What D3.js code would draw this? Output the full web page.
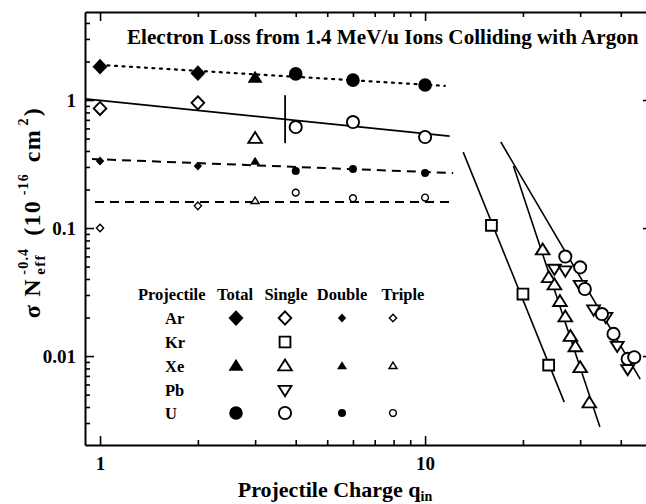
<!DOCTYPE html>
<html><head><meta charset="utf-8">
<script src="https://cdn.jsdelivr.net/npm/d3@7"></script>
<style>
body{margin:0;background:#fff}
svg{display:block}
text{font-family:"Liberation Serif","Times New Roman",serif;font-weight:bold;fill:#000}
</style>
</head><body><svg id="c" width="646" height="504"></svg>
<script>
// ---------- data ----------
const xMajorTicks = [1, 10];
const xMinorTicks = [2,3,4,5,6,7,8,9,20,30,40];
const yMajorTicks = [0.01, 0.1, 1];
const yTickLabels = ["0.01", "0.1", "1"];
const yMinorTicks = [0.003,0.004,0.005,0.006,0.007,0.008,0.009,0.02,0.03,0.04,0.05,0.06,0.07,0.08,0.09,0.2,0.3,0.4,0.5,0.6,0.7,0.8,0.9,2,3,4];

const arTotalQ = [1, 2],         arTotalV = [1.82, 1.62];
const xeTotalQ = [3],            xeTotalV = [1.49];
const uTotalQ  = [4, 6, 10],     uTotalV  = [1.60, 1.43, 1.31];

const arSingleQ = [1, 2],        arSingleV = [0.86, 0.95];
const krSingleQ = [16, 20, 24],  krSingleV = [0.105, 0.0305, 0.0085];
const xeSingleQ = [3, 23, 24, 25, 26, 27, 28, 29, 30, 32];
const xeSingleV = [0.50, 0.0673, 0.0409, 0.0359, 0.0266, 0.0202, 0.0142, 0.0118, 0.0081, 0.0043];
const pbSingleQ = [25, 27, 30, 33, 36, 39, 42];
const pbSingleV = [0.048, 0.0466, 0.0359, 0.0231, 0.0202, 0.0120, 0.0079];
const uSingleQ  = [4, 6, 10, 27, 30, 31, 35, 38, 42, 44];
const uSingleV  = [0.615, 0.673, 0.514, 0.0599, 0.0493, 0.0334, 0.0213, 0.0149, 0.0095, 0.0098];

const arDoubleQ = [1, 2],        arDoubleV = [0.334, 0.305];
const xeDoubleQ = [3],           xeDoubleV = [0.33];
const uDoubleQ  = [4, 6, 10],    uDoubleV  = [0.279, 0.289, 0.269];

const arTripleQ = [1, 2],        arTripleV = [0.100, 0.149];
const xeTripleQ = [3],           xeTripleV = [0.163];
const uTripleQ  = [4, 6, 10],    uTripleV  = [0.189, 0.171, 0.173];

// fitted lines (end points)
const fitTotalQ  = [1, 11.5],     fitTotalV  = [1.88, 1.29];
const fitSingleQ = [0.9, 11.9],   fitSingleV = [1.02, 0.523];
const fitDoubleQ = [0.945, 12.2], fitDoubleV = [0.346, 0.269];
const fitTripleQ = [0.965, 12.2], fitTripleV = [0.16, 0.16];
const fitKrQ     = [13.1, 26.8],  fitKrV     = [0.392, 0.00437];
const fitPbUQ    = [17.1, 45.9],  fitPbUV    = [0.47, 0.0066];
const fitXeQ     = [18.7, 34.5],  fitXeV     = [0.305, 0.00279];
const markQ      = [3.71, 3.71],  markV      = [1.09, 0.46];

const titleText = "Electron Loss from 1.4 MeV/u Ions Colliding with Argon";
const legendRows = ["Ar", "Kr", "Xe", "Pb", "U"];
const legendCols = ["Total", "Single", "Double", "Triple"];

// ---------- setup ----------
const svg = d3.select("#c");
const L = 85, R = 652, T = 12, B = 445;
const x = d3.scaleLog().domain([0.899, 49.9]).range([L, R]);
const y = d3.scaleLog().domain([0.00202, 4.87]).range([B, T]);

// custom symbol types (size = half width)
const sym = {
  diamond: {draw(c, r){ const h=r*1.05; c.moveTo(0,-h); c.lineTo(r,0); c.lineTo(0,h); c.lineTo(-r,0); c.closePath(); }},
  square:  {draw(c, r){ c.rect(-r,-r,2*r,2*r); }},
  triUp:   {draw(c, r){ const h=r*1.6; c.moveTo(0,-h*0.6); c.lineTo(r,h*0.4); c.lineTo(-r,h*0.4); c.closePath(); }},
  triDown: {draw(c, r){ const h=r*1.6; c.moveTo(0,h*0.6); c.lineTo(r,-h*0.4); c.lineTo(-r,-h*0.4); c.closePath(); }},
  circle:  {draw(c, r){ c.moveTo(r,0); c.arc(0,0,r,0,2*Math.PI); }}
};
const species = {Ar:"diamond", Kr:"square", Xe:"triUp", Pb:"triDown", U:"circle"};
const styleOf = {
  Total:  {fill:"#000", stroke:"none", sw:0, r:{diamond:7.5, triUp:7.5, circle:6.8}},
  Single: {fill:"#fff", stroke:"#000", sw:1.9, r:{diamond:6.3, square:5.4, triUp:6.8, triDown:6.4, circle:6.1}},
  Double: {fill:"#000", stroke:"none", sw:0, r:{diamond:4.2, triUp:5, circle:4}},
  Triple: {fill:"#fff", stroke:"#000", sw:1.4, r:{diamond:3.6, triUp:4, circle:3.4}}
};
function marker(sel, sp, col){
  const t = species[sp], st = styleOf[col];
  sel.attr("d", d3.symbol().type(sym[t]).size(st.r[t]))
     .attr("fill", st.fill).attr("stroke", st.stroke).attr("stroke-width", st.sw);
}

// ---------- axes ----------
function styleAxis(g, showDomain){
  g.selectAll(".tick line").attr("stroke","#000").attr("stroke-width",1.6);
  g.select(".domain").attr("stroke", showDomain ? "#000" : "none").attr("stroke-width",2);
  g.selectAll("text").attr("font-size",19).attr("fill","#000")
   .attr("font-family",'"Liberation Serif","Times New Roman",serif').attr("font-weight","bold");
}
const fmtY = d => yTickLabels[yMajorTicks.indexOf(d)];
svg.append("g").attr("transform",`translate(0,${B})`)
  .call(d3.axisBottom(x).tickValues(xMajorTicks).tickSizeInner(-9).tickSizeOuter(0).tickPadding(11.5).tickFormat(d3.format("d")))
  .call(g=>styleAxis(g,true));
svg.append("g").attr("transform",`translate(0,${B})`)
  .call(d3.axisBottom(x).tickValues(xMinorTicks).tickSizeInner(-5).tickSizeOuter(0).tickFormat(""))
  .call(g=>styleAxis(g,false));
svg.append("g").attr("transform",`translate(0,${T})`)
  .call(d3.axisTop(x).tickValues(xMajorTicks).tickSizeInner(-9).tickSizeOuter(0).tickFormat(""))
  .call(g=>styleAxis(g,true));
svg.append("g").attr("transform",`translate(0,${T})`)
  .call(d3.axisTop(x).tickValues(xMinorTicks).tickSizeInner(-5).tickSizeOuter(0).tickFormat(""))
  .call(g=>styleAxis(g,false));
svg.append("g").attr("transform",`translate(${L},0)`)
  .call(d3.axisLeft(y).tickValues(yMajorTicks).tickSizeInner(-9).tickSizeOuter(0).tickPadding(9).tickFormat(fmtY))
  .call(g=>styleAxis(g,true));
svg.append("g").attr("transform",`translate(${L},0)`)
  .call(d3.axisLeft(y).tickValues(yMinorTicks).tickSizeInner(-5).tickSizeOuter(0).tickFormat(""))
  .call(g=>styleAxis(g,false));
svg.append("g").attr("transform",`translate(${R},0)`)
  .call(d3.axisRight(y).tickValues(yMajorTicks).tickSizeInner(-9).tickSizeOuter(0).tickFormat(""))
  .call(g=>styleAxis(g,true));
svg.append("g").attr("transform",`translate(${R},0)`)
  .call(d3.axisRight(y).tickValues(yMinorTicks).tickSizeInner(-5).tickSizeOuter(0).tickFormat(""))
  .call(g=>styleAxis(g,false));

// ---------- fit lines ----------
const line = d3.line().x(d=>x(d[0])).y(d=>y(d[1]));
const fits = [
  [fitTotalQ, fitTotalV, "2,5.5", 2.2, "round"],
  [fitSingleQ, fitSingleV, null, 1.8, "butt"],
  [fitDoubleQ, fitDoubleV, "9,6", 2, "butt"],
  [fitTripleQ, fitTripleV, "9,6", 2, "butt"],
  [fitKrQ, fitKrV, null, 1.6, "butt"],
  [fitPbUQ, fitPbUV, null, 1.6, "butt"],
  [fitXeQ, fitXeV, null, 1.6, "butt"],
  [markQ, markV, null, 1.8, "butt"]
];
fits.forEach(([qs, vs, dash, w, cap]) => {
  svg.append("path").datum(d3.zip(qs, vs)).attr("d", line)
    .attr("fill","none").attr("stroke","#000").attr("stroke-width",w)
    .attr("stroke-linecap",cap).attr("stroke-dasharray",dash);
});

// ---------- points ----------
const series = [
  ["Ar","Total",arTotalQ,arTotalV],["Xe","Total",xeTotalQ,xeTotalV],["U","Total",uTotalQ,uTotalV],
  ["Ar","Double",arDoubleQ,arDoubleV],["Xe","Double",xeDoubleQ,xeDoubleV],["U","Double",uDoubleQ,uDoubleV],
  ["Ar","Triple",arTripleQ,arTripleV],["Xe","Triple",xeTripleQ,xeTripleV],["U","Triple",uTripleQ,uTripleV],
  ["Ar","Single",arSingleQ,arSingleV],["Kr","Single",krSingleQ,krSingleV],["Xe","Single",xeSingleQ,xeSingleV],
  ["Pb","Single",pbSingleQ,pbSingleV],["U","Single",uSingleQ,uSingleV]
];
series.forEach(([sp, col, qs, vs]) => {
  svg.append("g").selectAll("path").data(d3.zip(qs, vs)).join("path")
    .attr("transform", d=>`translate(${x(d[0])},${y(d[1])})`)
    .call(s=>marker(s, sp, col));
});

// ---------- title ----------
const title = svg.append("text").attr("x",127).attr("y",44).attr("font-size",20).text(titleText);
const tw = title.node().getComputedTextLength();
title.attr("font-size", 20*512/tw);

// ---------- legend ----------
const lg = svg.append("g");
const headX = [138, 235, 286, 342, 403];
const colX = [236, 285, 342, 393];
const rowY = [318, 342, 366, 390, 413];
const hp = lg.append("text").attr("x",headX[0]).attr("y",300).attr("font-size",16.5).text("Projectile");
legendCols.forEach((c,i)=>lg.append("text").attr("x",headX[i+1]).attr("y",300).attr("font-size",16.5).attr("text-anchor","middle").text(c));
const present = {Ar:[1,1,1,1], Kr:[0,1,0,0], Xe:[1,1,1,1], Pb:[0,1,0,0], U:[1,1,1,1]};
legendRows.forEach((sp,ri)=>{
  lg.append("text").attr("x",165).attr("y",rowY[ri]+5.5).attr("font-size",16.5).text(sp);
  legendCols.forEach((c,ci)=>{
    if(!present[sp][ci]) return;
    lg.append("path").attr("transform",`translate(${colX[ci]},${rowY[ri]})`).call(s=>marker(s, sp, c));
  });
});

// ---------- axis titles ----------
const xt = svg.append("text").attr("x",335).attr("y",497).attr("font-size",22).attr("text-anchor","middle");
xt.append("tspan").text("Projectile Charge q");
xt.append("tspan").attr("font-size",14).attr("dy",4).text("in");

// y title: sequential pieces in rotated frame
const yt = svg.append("g").attr("transform","translate(40,212) rotate(-90)");
const pieces = [
  {t:"σ N", fs:24, sh:0},
  {t:"eff", fs:15, sh:5, stack:true},
  {t:"-0.4", fs:14, sh:-12, stackTop:true},
  {t:" (10", fs:24, sh:0},
  {t:"-16", fs:14, sh:-12},
  {t:" cm", fs:24, sh:0},
  {t:"2", fs:14, sh:-12},
  {t:")", fs:24, sh:0}
];
const ls = 1.2;
let cx = 0, stackStart = 0, stackW = 0;
const nodes = [];
pieces.forEach(p=>{
  let px = cx;
  if(p.stackTop){ px = stackStart; }
  const tn = yt.append("text").attr("x",px).attr("y",p.sh).attr("font-size",p.fs)
    .attr("letter-spacing",ls).attr("xml:space","preserve").text(p.t);
  const w = tn.node().getComputedTextLength() + ls*p.t.length;
  if(p.stack){ stackStart = cx; stackW = w; cx += w; }
  else if(p.stackTop){ cx = stackStart + Math.max(stackW, w); }
  else cx += w;
  nodes.push(tn);
});
nodes.forEach(n=>n.attr("x", +n.attr("x") - cx/2));
</script></body></html>
